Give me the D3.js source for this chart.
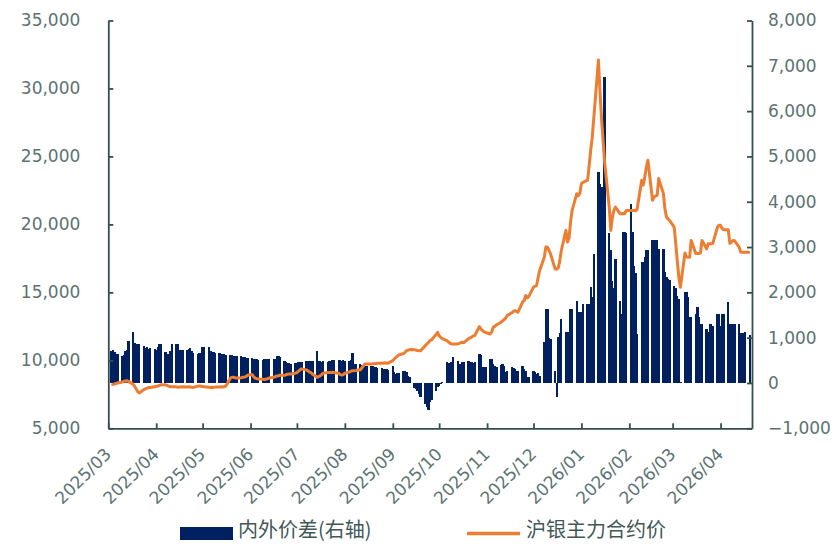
<!DOCTYPE html>
<html lang="zh">
<head>
<meta charset="UTF-8">
<title>内外价差与沪银主力合约价</title>
<script src="https://d3js.org/d3.v7.min.js"></script>
<style>
  body { margin: 0; background: #fff; }
  svg { display: block; }
  .axis text { font-family: "DejaVu Sans", sans-serif; font-size: 17px; fill: #5b7371; }
  .axis path, .axis line { stroke: #33504f; stroke-width: 1.8; }
  .legend-text { font-family: "Noto Sans CJK SC", sans-serif; font-size: 20px; fill: #3f5858; }
</style>
</head>
<body>
<svg id="chart" width="836" height="544"></svg>
<script>
// one array per month, one value per weekday (Mon-Fri) of that month
const months = ["2025-03", "2025-04", "2025-05", "2025-06", "2025-07", "2025-08", "2025-09",
                "2025-10", "2025-11", "2025-12", "2026-01", "2026-02", "2026-03", "2026-04"];

// 内外价差 (right axis)
const spread2503 = [700,720,680,650,640, 600,620,700,720,930, 1120,880,860,870,850, 820,780,790,760,780, 740];
const spread2504 = [720,800,870,860, 680,650,640,700,860, 860,850,720,730,720, 720,760,780,700,660, 650,660,650];
const spread2505 = [790,790, 790,700,680,680,670, 660,650,640,630,620, 620,610,600,600,590, 590,580,570,560,560];
const spread2506 = [550,540,530,520,500, 510,520,530,540,530, 520,530,600,600,580, 480,460,450,440,430, 440];
const spread2507 = [450,460,470,470, 480,490,490,480,490, 700,490,480,470,480, 470,480,490,500,500, 500,500,490,500];
const spread2508 = [490, 480,500,660,430,420, 410,400,390,380,380, 380,370,360,350,340, 330,310,300,300,290];
const spread2509 = [380,250,200,210,230, 270,260,240,160,130, -100,-130,-170,-250,-320, -460,-520,-600,-420,-380, -170,-80];
const spread2510 = [-60,-30,30, 456,450,440,460,580, 480,430,420,460,470, 480,470,460,450,470, 640,620,345,350,360];
const spread2511 = [530,520,420,380,350, 400,410,380,235,270, 345,330,300,270,270, 380,300,270,125,130];
const spread2512 = [270,250,200,210,160, 900,1640,1640,1000,980, 270,-320,1010,1100,1415, 1120,1120,790,1640,1640, 1820,1560,1560];
const spread2601 = [1560,1750, 1750,1750,2115,1890,2850, 4660,4400,4330,4000,6760, 3300,2930,2260,2100,2740, 1820,1530,3330,3330,3300];
const spread2602 = [3960,3330,2590,2420,1090, 2670,2670,2780,2930,2930, 3150,3150,3160,3160,2960, 2960,2450,2330,2290,2280];
const spread2603 = [2150,2100,1930,1860,20, 2000,2000,1900,1450,1450, 1520,1670,1450,1300,1300, 1200,1120,1300,1300,1250, 1530,1530];
const spread2604 = [1250,1530,1530, 1780,1300,1310,1310,1310, 1300,1100,1100,1100,1120, 1050];

// 沪银主力合约价 (left axis)
const price2503 = [8250,8230,8260,8300,8330, 8400,8450,8480,8500,8450, 8250,8100,7900,7700,7600, 7850,7900,7950,8000,8000, 8050];
const price2504 = [8100,8100,8150,8200, 8200,8150,8100,8080,8050, 8050,8020,8030,8040,8050, 8030,8050,8040,8020,8010, 8100,8120,8100];
const price2505 = [8080,8050, 8020,8010,8020,8010,8030, 8030,8050,8040,8050,8100, 8700,8750,8750,8720,8700, 8720,8750,8760,8800,8900];
const price2506 = [8950,8800,8700,8650,8620, 8600,8580,8620,8650,8700, 8750,8800,8850,8870,8900, 8900,8950,8980,9000,9000, 9050];
const price2507 = [9100,9200,9300,9370, 9300,9240,9150,9100,9000, 8750,8800,8850,8950,9050, 9110,9110,9100,9120,9110, 9050,8950,8920,8950];
const price2508 = [9050, 9150,9200,9240,9240,9250, 9300,9450,9600,9730,9730, 9730,9750,9740,9760,9780, 9780,9800,9820,9780,9800];
const price2509 = [9980,10100,10220,10300,10400, 10500,10600,10710,10750,10790, 10780,10750,10720,10710,10700, 11080,11200,11300,11450,11500, 11900,12060];
const price2510 = [11800,11690,11600, 11450,11350,11250,11210,11200, 11210,11250,11300,11330,11300, 11600,11650,11700,11800,11830, 12480,12300,12200,12100,12050];
const price2511 = [11940,12100,12430,12500,12600, 12800,12900,13000,13100,13300, 13500,13600,13650,13600,13550, 14300,14400,14770,14600,14700];
const price2512 = [15380,15450,15500,16100,16610, 17590,18330,18330,18100,17840, 16730,16700,16800,17300,18080, 19560,18700,19000,20200,21030, 22260,22100,22300];
const price2601 = [23000,23100, 23250,24300,25450,26400,27800, 32090,29800,27800,26200,24600, 21270,19560,20500,21030,21270, 20790,20790,20800,20790,21030];
const price2602 = [21030,21030,21030,21000,21100, 23240,22900,23500,24200,24720, 21770,22010,22100,22140,23370, 22280,21170,20540,20400,20300];
const price2603 = [19800,18600,17340,16120,15380, 17900,17600,17590,17590,18820, 17860,17860,17860,17900,18820, 18200,18580,18580,18580,18600, 19800,19930];
const price2604 = [19930,19700,19600, 19600,18600,18700,18820,18800, 18330,17960,17960,17960,17960, 17960];

const leftTicks = [5000, 10000, 15000, 20000, 25000, 30000, 35000];
const rightTicks = [-1000, 0, 1000, 2000, 3000, 4000, 5000, 6000, 7000, 8000];
const legendLabels = ["内外价差(右轴)", "沪银主力合约价"];

const spreadByMonth = [spread2503, spread2504, spread2505, spread2506, spread2507, spread2508, spread2509,
                       spread2510, spread2511, spread2512, spread2601, spread2602, spread2603, spread2604];
const priceByMonth = [price2503, price2504, price2505, price2506, price2507, price2508, price2509,
                      price2510, price2511, price2512, price2601, price2602, price2603, price2604];

const firstDay = new Date(2025, 2, 3);
const lastDay = new Date(2026, 3, 20);

const rows = [];
months.forEach((mk, i) => {
    const [y, m] = mk.split("-").map(Number);
    const start = new Date(y, m - 1, 1);
    const days = d3.timeDays(start, d3.timeMonth.offset(start, 1))
        .filter(d => d.getDay() > 0 && d.getDay() < 6 && d >= firstDay && d <= lastDay);
    days.forEach((d, j) => {
        if (j < spreadByMonth[i].length) {
            rows.push({ date: d, spread: spreadByMonth[i][j], price: priceByMonth[i][j] });
        }
    });
});

const plot = { left: 108.3, right: 752, top: 20.5, bottom: 428.3 };
const svg = d3.select("#chart");

const x = d3.scaleTime()
    .domain([new Date(2025, 2, 1), new Date(2026, 3, 21, 8)])
    .range([plot.left, plot.right]);
const yL = d3.scaleLinear().domain([5000, 35000]).range([plot.bottom, plot.top]);
const yR = d3.scaleLinear().domain([-1000, 8000]).range([plot.bottom, plot.top]);

const dayW = x(new Date(2025, 2, 2)) - x(new Date(2025, 2, 1));
const barW = dayW * 1.5;

// bars
svg.append("g")
    .attr("shape-rendering", "crispEdges")
    .selectAll("rect")
    .data(rows)
    .enter().append("rect")
    .attr("x", d => x(d.date) - barW / 2)
    .attr("width", barW)
    .attr("y", d => yR(Math.max(0, d.spread)))
    .attr("height", d => Math.abs(yR(d.spread) - yR(0)))
    .attr("fill", "#002060");

// price line
svg.append("path")
    .datum(rows)
    .attr("fill", "none")
    .attr("stroke", "#ED7D31")
    .attr("stroke-width", 3)
    .attr("stroke-linejoin", "round")
    .attr("d", d3.line().x(d => x(d.date)).y(d => yL(d.price)));

// axes
svg.append("g")
    .attr("class", "axis")
    .attr("transform", `translate(${plot.left},0)`)
    .call(d3.axisLeft(yL).tickValues(leftTicks).tickFormat(d3.format(",")).tickSize(-5).tickSizeOuter(0).tickPadding(28));

svg.append("g")
    .attr("class", "axis")
    .attr("transform", `translate(${plot.right},0)`)
    .call(d3.axisRight(yR).tickValues(rightTicks).tickFormat(d3.format(",")).tickSize(-5).tickSizeOuter(0).tickPadding(16));

const xAxis = svg.append("g")
    .attr("class", "axis")
    .attr("transform", `translate(0,${plot.bottom})`)
    .call(d3.axisBottom(x).ticks(d3.timeMonth.every(1)).tickFormat(d3.timeFormat("%Y/%m")).tickSize(-5).tickSizeOuter(0));

xAxis.selectAll("text")
    .attr("x", 0).attr("y", 0).attr("dy", 0)
    .attr("text-anchor", "end")
    .attr("transform", "translate(3.4,27) rotate(-45)");

svg.selectAll(".axis .domain").attr("fill", "none");

// legend
const legend = svg.append("g");
legend.append("rect")
    .attr("x", 180).attr("y", 527).attr("width", 53).attr("height", 13)
    .attr("fill", "#002060");
legend.append("text")
    .attr("class", "legend-text")
    .attr("x", 238).attr("y", 537)
    .text(legendLabels[0]);
legend.append("line")
    .attr("x1", 467).attr("x2", 520).attr("y1", 533.5).attr("y2", 533.5)
    .attr("stroke", "#ED7D31").attr("stroke-width", 3.5);
legend.append("text")
    .attr("class", "legend-text")
    .attr("x", 526).attr("y", 537)
    .text(legendLabels[1]);
</script>
</body>
</html>
